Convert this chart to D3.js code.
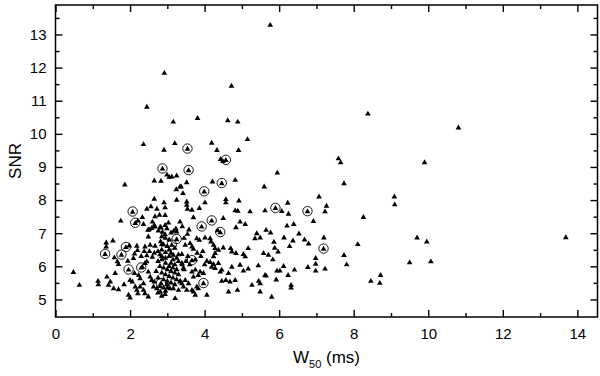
<!DOCTYPE html>
<html>
<head>
<meta charset="utf-8">
<script src="https://cdn.jsdelivr.net/npm/d3@7"></script>
<style>
  body { margin: 0; background: #fff; }
  text { font-family: "Liberation Sans", Arial, sans-serif; fill: #000; }
</style>
</head>
<body>
<div id="wrapper"></div>
<script>
// W50 (ms), SNR pairs
const points = [
  [5.76,13.28],[2.92,11.83],[4.72,11.44],[2.45,10.81],[3.16,10.36],[3.81,10.47],[4.62,10.40],[4.89,10.36],
  [5.15,9.83],[2.36,9.68],[3.20,9.71],[4.19,9.72],[4.33,9.50],[4.91,9.50],[2.91,9.51],[4.43,9.23],[4.49,9.17],
  [8.38,10.60],[10.81,10.18],[7.59,9.25],[7.65,9.13],[9.90,9.13],[7.74,8.50],[7.07,8.10],[9.09,8.10],
  [2.99,8.76],[3.05,8.69],[3.12,8.70],[3.25,8.73],[2.65,8.58],[2.83,8.57],[1.86,8.46],[3.34,8.40],[3.24,8.32],
  [3.42,8.20],[2.65,8.03],[3.25,8.00],[2.91,7.92],[2.56,7.80],[2.45,7.73],[2.72,7.73],[2.94,7.77],[1.75,7.37],
  [2.33,7.48],[2.21,7.37],[2.94,7.54],[2.60,7.34],[2.65,7.24],[3.03,7.31],[3.34,7.34],[2.36,7.27],[2.48,7.09],
  [2.58,7.15],[2.76,7.07],[2.87,7.03],[3.10,7.01],[3.17,7.06],[3.23,7.13],[2.49,6.89],
  [3.52,8.53],[3.37,8.40],[3.52,7.95],[4.21,8.55],[4.82,8.60],[5.60,8.40],[4.57,8.02],[4.57,7.92],[4.92,7.98],[4.01,7.92],
  [3.52,7.85],[3.66,7.70],[3.54,7.73],[3.86,7.75],[4.82,7.68],[4.89,7.67],[5.22,7.65],[3.70,7.47],[4.50,7.45],
  [4.95,7.34],[5.09,7.27],[4.35,7.08],[4.84,7.17],[2.81,7.19],[2.99,7.14],[3.25,7.04],[2.94,6.96],[3.54,6.97],
  [3.79,6.84],[4.01,6.86],[4.15,6.84],[3.86,6.79],[4.17,6.74],[3.48,6.64],[3.61,6.69],[3.66,6.59],[3.70,6.52],
  [4.24,6.64],[4.28,6.54],[4.37,6.49],[4.50,6.56],[4.70,6.54],[4.73,6.44],[4.84,6.39],[5.04,6.36],[5.09,6.29],
  [5.17,6.54],[5.40,6.99],[5.49,6.86],[5.35,6.84],[5.58,6.39],[3.16,6.34],[3.39,6.36],[4.24,6.29],[4.28,6.39],
  [2.85,6.90],[2.95,6.85],[3.05,6.80],[2.82,6.75],[2.90,6.65],[3.00,6.60],[2.85,6.50],[3.05,6.50],[2.95,6.42],
  [2.80,6.35],[3.10,6.40],[3.20,6.55],
  [2.79,7.55],[2.67,7.50],[2.67,7.19],[2.83,7.16],[2.94,7.24],[2.51,7.11],[1.36,6.71],[1.54,6.77],[1.36,6.59],
  [1.98,6.62],[2.18,6.61],[2.40,6.59],[2.54,6.64],[2.67,6.61],[2.85,6.66],[1.58,6.26],[2.09,6.24],
  [2.20,6.48],[2.38,6.45],[2.52,6.45],[2.65,6.40],[2.75,6.45],[2.45,6.32],[2.60,6.28],[2.30,6.30],[2.12,6.38],
  [0.48,5.82],[0.64,5.43],[1.14,5.55],[1.15,5.45],[1.38,5.68],[1.47,5.53],[1.42,5.43],[1.56,5.33],[1.69,5.30],
  [1.60,5.79],[1.66,6.14],[1.69,6.06],[1.94,6.16],[1.84,5.45],[2.00,5.58],[2.06,5.53],[2.14,5.38],[2.18,5.28],
  [1.96,5.13],[2.00,5.05],[2.12,5.79],[2.23,5.73],[2.27,5.63],[2.33,5.98],[2.40,6.09],[2.45,6.14],[2.49,5.83],
  [2.54,5.68],[2.58,5.58],[2.65,5.53],[2.63,5.38],[2.72,5.33],[2.36,5.28],[2.40,5.18],[2.49,5.08],[2.36,5.48],
  [2.27,5.38],[2.21,5.18],
  [2.75,6.15],[2.85,6.20],[2.95,6.10],[2.80,6.00],[2.90,5.95],[3.00,5.90],[2.70,5.85],[2.85,5.80],[2.95,5.75],
  [2.75,5.65],[2.90,5.60],[3.00,5.55],[2.80,5.40],[2.90,5.35],[3.00,5.45],[2.95,5.25],[2.75,5.20],[2.85,5.10],
  [2.85,6.30],[2.95,6.25],[3.05,6.30],[3.15,6.20],[3.25,6.25],[3.10,6.10],[3.20,6.05],[3.30,6.15],[3.05,6.00],
  [3.15,5.95],[3.25,5.90],[3.10,5.85],[3.20,5.80],[3.30,5.75],[3.05,5.70],[3.15,5.65],[3.25,5.60],[3.10,5.50],
  [3.20,5.45],[3.35,5.55],[3.00,5.35],[3.30,6.35],[3.40,6.05],[3.45,5.90],
  [4.06,6.16],[4.15,6.12],[4.24,6.06],[4.28,5.94],[4.19,5.98],[4.37,6.09],[4.46,5.89],[4.42,5.83],[4.73,5.98],
  [4.64,5.79],[4.95,6.04],[5.17,5.92],[5.44,6.02],[5.04,5.86],[5.65,5.71],[4.46,5.55],[4.57,5.58],[4.68,5.53],
  [4.82,5.58],[5.27,5.43],[5.49,5.48],[5.45,5.55],[4.64,5.23],[4.88,5.28],[5.49,5.23],[4.06,5.13],[3.70,5.23],
  [3.75,5.13],[3.79,5.38],[3.83,5.33],[3.21,5.03],[3.52,5.28],[3.66,5.28],[3.43,5.38],[3.39,5.48],[2.94,5.15],
  [2.81,5.23],[3.07,5.33],[3.16,5.33],[3.30,5.28],[3.39,6.09],[3.43,5.94],[3.66,5.83],[3.75,5.89],[3.83,5.73],
  [3.88,5.83],[3.70,5.68],[3.97,5.79],[3.48,5.58],[3.34,5.53],[3.57,5.48],[3.55,6.30],[3.60,6.05],[3.50,6.15],
  [3.80,6.40],[3.90,6.30],[3.95,6.45],[3.75,6.20],[4.00,6.05],[3.40,7.20],[3.58,7.10],[3.45,6.85],
  [5.95,8.82],[9.10,7.86],[6.23,7.91],[6.07,7.66],[5.62,7.68],[7.27,7.82],[7.23,7.65],[6.25,7.58],[8.26,7.48],
  [6.92,7.36],[6.21,7.22],[6.39,7.27],[5.65,7.09],[5.77,7.01],[6.53,6.98],[7.20,6.86],[6.13,6.86],[9.70,6.86],
  [9.96,6.74],[13.69,6.87],[6.68,6.80],[6.37,6.77],[5.86,6.73],[6.79,6.68],[8.11,6.66],[6.28,6.60],[5.88,6.55],
  [5.97,6.44],[5.71,6.34],[7.74,6.33],[6.98,6.24],[5.83,6.20],[6.98,6.07],[7.81,6.05],[9.50,6.11],[10.07,6.14],
  [6.12,6.00],[6.77,5.97],[7.23,5.92],[5.94,5.86],[6.02,5.86],[6.41,5.89],[6.98,5.86],[5.62,5.73],[6.24,5.73],
  [8.72,5.73],[5.92,5.59],[8.46,5.55],[8.70,5.49],[6.32,5.43],[6.32,5.35],[5.80,5.07]
];

// points marked with a ring
const circled = [
  [3.54,9.54],[4.57,9.20],[2.87,8.94],[3.57,8.89],[3.99,8.25],[4.46,8.50],[2.07,7.64],[2.14,7.30],
  [5.90,7.75],[6.76,7.65],[4.19,7.37],[3.92,7.19],[4.42,7.02],[3.25,6.81],[3.12,6.64],[1.89,6.57],
  [1.33,6.36],[1.77,6.34],[3.66,6.17],[7.19,6.52],[2.30,5.95],[1.96,5.89],[2.83,5.48],[3.97,5.48]
];

const xMajorTicks = [0, 2, 4, 6, 8, 10, 12, 14];
const xMinorTicks = [1, 3, 5, 7, 9, 11, 13];
const yMajorTicks = [5, 6, 7, 8, 9, 10, 11, 12, 13];
const yMinorTicks = [5.5, 6.5, 7.5, 8.5, 9.5, 10.5, 11.5, 12.5, 13.5];

const dimensions = {
  width: 600,
  height: 376,
  margin: { top: 5, right: 2.5, bottom: 59, left: 55.5 },
};
dimensions.boundWidth = dimensions.width - dimensions.margin.left - dimensions.margin.right;
dimensions.boundHeight = dimensions.height - dimensions.margin.top - dimensions.margin.bottom;

const svg = d3.select('#wrapper')
  .append('svg')
  .attr('width', dimensions.width)
  .attr('height', dimensions.height);
const bounds = svg.append('g')
  .attr('transform', `translate(${dimensions.margin.left},${dimensions.margin.top})`);

const xScale = d3.scaleLinear()
  .domain([0, 14.54])
  .range([0, dimensions.boundWidth]);
const yScale = d3.scaleLinear()
  .domain([4.47, 13.89])
  .range([dimensions.boundHeight, 0]);

// axes: ticks point inward on all four sides
const major = 7, minor = 4;
function styleAxis(g) {
  g.select('.domain').remove();
  g.selectAll('line').attr('stroke', '#000').attr('stroke-width', 1.4);
  g.selectAll('text').style('font-size', '15px').attr('fill', '#000');
}

bounds.append('g')
  .attr('transform', `translate(0,${dimensions.boundHeight})`)
  .call(d3.axisBottom(xScale).tickValues(xMajorTicks).tickSize(-major).tickPadding(11).tickFormat(d3.format('d')))
  .call(styleAxis);
bounds.append('g')
  .attr('transform', `translate(0,${dimensions.boundHeight})`)
  .call(d3.axisBottom(xScale).tickValues(xMinorTicks).tickSize(-minor).tickFormat(''))
  .call(styleAxis);
bounds.append('g')
  .call(d3.axisTop(xScale).tickValues(xMajorTicks).tickSize(-major).tickFormat(''))
  .call(styleAxis);
bounds.append('g')
  .call(d3.axisTop(xScale).tickValues(xMinorTicks).tickSize(-minor).tickFormat(''))
  .call(styleAxis);

bounds.append('g')
  .call(d3.axisLeft(yScale).tickValues(yMajorTicks).tickSize(-major).tickPadding(9).tickFormat(d3.format('d')))
  .call(styleAxis);
bounds.append('g')
  .call(d3.axisLeft(yScale).tickValues(yMinorTicks).tickSize(-minor).tickFormat(''))
  .call(styleAxis);
bounds.append('g')
  .attr('transform', `translate(${dimensions.boundWidth},0)`)
  .call(d3.axisRight(yScale).tickValues(yMajorTicks).tickSize(-major).tickFormat(''))
  .call(styleAxis);
bounds.append('g')
  .attr('transform', `translate(${dimensions.boundWidth},0)`)
  .call(d3.axisRight(yScale).tickValues(yMinorTicks).tickSize(-minor).tickFormat(''))
  .call(styleAxis);

// frame
bounds.append('rect')
  .attr('width', dimensions.boundWidth)
  .attr('height', dimensions.boundHeight)
  .attr('fill', 'none')
  .attr('stroke', '#000')
  .attr('stroke-width', 1.5);

// data
const triangle = d3.symbol().type(d3.symbolTriangle).size(14);
bounds.append('g')
  .selectAll('path')
  .data(points.concat(circled))
  .join('path')
  .attr('d', triangle)
  .attr('transform', d => `translate(${xScale(d[0])},${yScale(d[1])})`)
  .attr('fill', '#000');

bounds.append('g')
  .selectAll('circle')
  .data(circled)
  .join('circle')
  .attr('cx', d => xScale(d[0]))
  .attr('cy', d => yScale(d[1]) - 0.5)
  .attr('r', 4.7)
  .attr('fill', 'none')
  .attr('stroke', '#000')
  .attr('stroke-width', 0.9);

// axis titles
const xLabel = svg.append('text')
  .attr('x', dimensions.margin.left + dimensions.boundWidth / 2)
  .attr('y', 363)
  .attr('text-anchor', 'middle')
  .style('font-size', '17px');
xLabel.append('tspan').text('W');
xLabel.append('tspan').attr('dy', 5).style('font-size', '11px').text('50');
xLabel.append('tspan').attr('dy', -5).text(' (ms)');

svg.append('text')
  .attr('transform', `translate(21,${dimensions.margin.top + 156}) rotate(-90)`)
  .attr('text-anchor', 'middle')
  .style('font-size', '17px')
  .text('SNR');
</script>
</body>
</html>
